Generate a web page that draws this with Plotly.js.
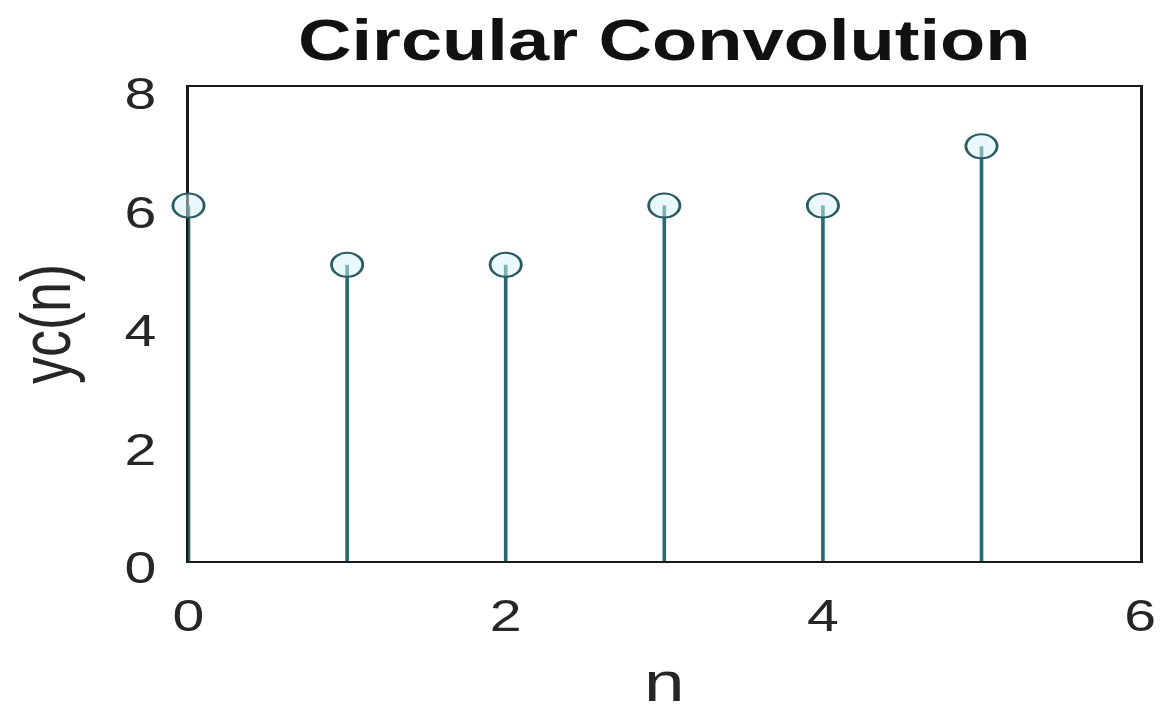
<!DOCTYPE html>
<html>
<head>
<meta charset="utf-8">
<script src="https://cdn.plot.ly/plotly-3.0.1.min.js"></script>
<style>
  html, body { margin: 0; padding: 0; background: #ffffff; overflow: hidden; width: 1164px; height: 713px; }
  #chart { height: 713px; transform-origin: 0 0; }
</style>
</head>
<body>
<div id="chart"></div>
<script>
// Circular convolution result yc(n) for n = 0..5
const n = [0, 1, 2, 3, 4, 5];
const yc = [6, 5, 5, 6, 6, 7];
const xTickVals = [0, 2, 4, 6];
const yTickVals = [0, 2, 4, 6, 8];

// The figure is drawn narrower and widened with a horizontal stretch
const STRETCH = 1.3;
const FULL_W = 1164;
const W = FULL_W / STRETCH;
const el = document.getElementById('chart');
el.style.width = W + 'px';
el.style.transform = 'scaleX(' + STRETCH + ')';

const stemColor = '#276a71';
const fontFamily = '"Liberation Sans", Arial, Helvetica, sans-serif';

// Stems: error bars running from each value down to zero
const stems = {
  type: 'scatter',
  mode: 'markers',
  x: n,
  y: yc,
  cliponaxis: false,
  marker: {
    symbol: 'circle',
    size: 24,
    color: 'rgba(214,243,250,0.5)',
    line: { color: '#2c5c63', width: 2.2 }
  },
  error_y: {
    type: 'data',
    symmetric: false,
    array: n.map(() => 0),
    arrayminus: yc,
    width: 0,
    thickness: 2.8,
    color: stemColor
  },
  hoverinfo: 'x+y',
  showlegend: false
};

const layout = {
  width: W,
  height: 713,
  paper_bgcolor: '#ffffff',
  plot_bgcolor: '#ffffff',
  margin: { l: 189 / STRETCH, r: 23 / STRETCH, t: 87, b: 152 },
  font: { family: fontFamily, color: '#222222' },
  title: {
    text: 'Circular Convolution',
    x: 0.5,
    xref: 'paper',
    xanchor: 'center',
    y: 1 - 40 / 713,
    yref: 'container',
    yanchor: 'middle',
    font: { family: fontFamily, size: 57, weight: 'bold', color: '#111111' }
  },
  xaxis: {
    range: [0, 6],
    tickmode: 'array',
    tickvals: xTickVals,
    ticktext: xTickVals.map(String),
    ticks: '',
    showgrid: false,
    zeroline: false,
    showline: true,
    mirror: true,
    layer: 'below traces',
    linecolor: '#1a1a1a',
    linewidth: 2,
    tickfont: { size: 44, color: '#262626' },
    ticklabelstandoff: 15,
    title: { text: 'n', standoff: 40, font: { size: 56, color: '#262626' } }
  },
  yaxis: {
    range: [0, 8],
    tickmode: 'array',
    tickvals: yTickVals,
    ticktext: yTickVals.map(String),
    ticks: '',
    showgrid: false,
    zeroline: false,
    showline: true,
    mirror: true,
    layer: 'below traces',
    linecolor: '#1a1a1a',
    linewidth: 2,
    tickfont: { size: 44, color: '#262626' },
    ticklabelstandoff: 14,
    ticklabelshift: 7,
    title: { text: 'yc(n)', standoff: 24, font: { size: 54, color: '#262626' } }
  }
};

Plotly.newPlot(el, [stems], layout, { displayModeBar: false, staticPlot: true });
</script>
</body>
</html>
